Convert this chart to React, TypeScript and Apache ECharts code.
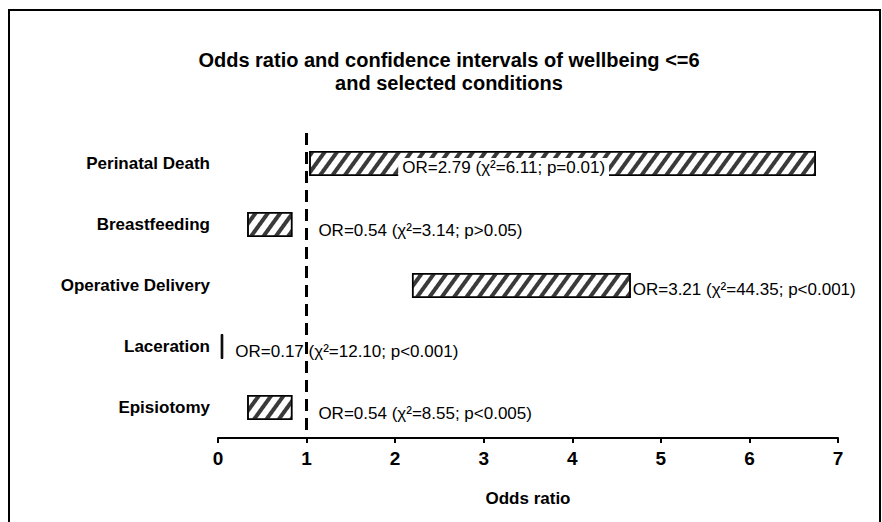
import React, { useEffect, useRef } from "react";
import * as echarts from "echarts";

const categories = ["Perinatal Death", "Breastfeeding", "Operative Delivery", "Laceration", "Episiotomy"];
const ciLow = [1.03, 0.33, 2.19, 0.03, 0.33];
const ciHigh = [6.75, 0.84, 4.66, 0.06, 0.84];
const orValues = ["2.79", "0.54", "3.21", "0.17", "0.54"];
const chiSquare = ["6.11", "3.14", "44.35", "12.10", "8.55"];
const pValues = ["p=0.01", "p>0.05", "p<0.001", "p<0.001", "p<0.005"];
const xTicks = [0, 1, 2, 3, 4, 5, 6, 7];

const FONT = "'Liberation Sans', Arial, Helvetica, sans-serif";

// label placement styles (presentation only)
const labelPlacement: any[] = [
  { position: "insideLeft", distance: 5, offset: [84, 4], backgroundColor: "#fff", padding: [1, 4] },
  { position: "right", distance: 5, offset: [21, 6] },
  { position: "right", distance: 2, offset: [0, 4] },
  { position: "right", distance: 5, offset: [7, 5] },
  { position: "right", distance: 5, offset: [21, 6] },
];

export default function App() {
  const ref = useRef<HTMLDivElement>(null);
  useEffect(() => {
    if (!ref.current) return;
    const chart = echarts.init(ref.current, undefined, { renderer: "svg" });
    const hatch = {
      symbol: "rect",
      symbolSize: 1,
      color: "#3a3a3a",
      backgroundColor: "#ffffff",
      dashArrayX: [1, 0],
      dashArrayY: [3.8, 5.9],
      rotation: -Math.PI * 0.3,
    };
    const rangeData = categories.map((c, i) => {
      const thin = ciHigh[i] - ciLow[i] < 0.1;
      return {
        value: +(ciHigh[i] - ciLow[i]).toFixed(3),
        itemStyle: thin
          ? { color: "#000", borderColor: "#000", borderWidth: 1 }
          : { color: "#fff", borderColor: "#000", borderWidth: 1.5, decal: hatch },
        label: {
          show: true,
          formatter: `OR=${orValues[i]} (χ²=${chiSquare[i]}; ${pValues[i]})`,
          color: "#000",
          fontFamily: FONT,
          fontSize: 17,
          ...labelPlacement[i],
        },
      };
    });
    chart.setOption({
      animation: false,
      backgroundColor: "#fff",
      title: {
        text: "Odds ratio and confidence intervals of wellbeing <=6\nand selected conditions",
        left: 449,
        top: 48,
        textAlign: "center",
        padding: 0,
        textStyle: { fontFamily: FONT, fontSize: 20, fontWeight: "bold", color: "#000", lineHeight: 23 },
      },
      graphic: [
        {
          type: "rect",
          shape: { x: 9, y: 10, width: 871, height: 600 },
          style: { fill: "none", stroke: "#000", lineWidth: 2 },
          silent: true,
        },
      ],
      grid: { left: 218, right: 44, top: 133, bottom: 84, containLabel: false },
      xAxis: {
        type: "value",
        min: xTicks[0],
        max: xTicks[xTicks.length - 1],
        interval: 1,
        name: "Odds ratio",
        nameLocation: "middle",
        nameGap: 52,
        nameTextStyle: { fontFamily: FONT, fontSize: 17, fontWeight: "bold", color: "#000" },
        axisLine: { show: true, lineStyle: { color: "#000", width: 2 } },
        axisTick: { show: true, length: 5, lineStyle: { color: "#000", width: 2 } },
        axisLabel: { fontFamily: FONT, fontSize: 19, fontWeight: "bold", color: "#000", margin: 11 },
        splitLine: { show: false },
      },
      yAxis: {
        type: "category",
        data: categories,
        inverse: true,
        axisLine: { show: false },
        axisTick: { show: false },
        axisLabel: { fontFamily: FONT, fontSize: 17, fontWeight: "bold", color: "#000", margin: 8 },
      },
      series: [
        {
          type: "bar",
          stack: "ci",
          data: ciLow,
          itemStyle: { color: "transparent" },
          barWidth: 25,
          silent: true,
        },
        {
          type: "bar",
          stack: "ci",
          data: rangeData,
          barWidth: 25,
          markLine: {
            silent: true,
            symbol: "none",
            label: { show: false },
            lineStyle: { color: "#000", width: 3, type: [12, 7] },
            data: [{ xAxis: 1 }],
          },
        },
      ],
    });
    return () => chart.dispose();
  }, []);
  return (
    <div
      ref={ref}
      style={{ position: "fixed", left: 0, top: 0, width: 882, height: 522, background: "#fff" }}
    />
  );
}
